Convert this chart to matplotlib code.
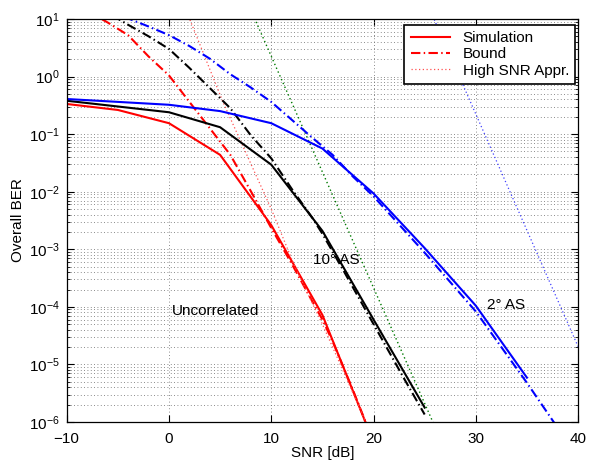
import numpy as np
import matplotlib.pyplot as plt
from matplotlib.ticker import LogLocator, NullFormatter

plt.rcParams['font.family'] = ['Liberation Sans', 'DejaVu Sans']
plt.rcParams['font.size'] = 11

# ---- data (BER given as log10 values) ----
# Uncorrelated
snr_sim_unc = [-10, -5, 0, 5, 10, 15, 20]
log_sim_unc = [-0.476, -0.58, -0.81, -1.36, -2.58, -4.14, -6.35]
snr_bnd_unc = [-8, -7, -6, -4, -2, 0, 2, 4, 6, 8, 10, 12, 14, 15, 16, 18, 20]
log_bnd_unc = [1.15, 1.04, 0.94, 0.72, 0.35, 0.02, -0.44, -0.9, -1.36, -1.99,
               -2.63, -3.25, -3.9, -4.22, -4.6, -5.45, -6.35]
snr_hi_unc = [1.0, 5.3, 10, 12.3, 15, 20]
log_hi_unc = [1.45, -0.45, -2.3, -3.3, -4.3, -6.3]

# 10 deg angular spread
snr_sim_10 = [-10, -5, 0, 5, 10, 15, 20, 25]
log_sim_10 = [-0.42, -0.52, -0.62, -0.88, -1.53, -2.68, -4.22, -5.75]
snr_bnd_10 = [-7, -6, -4, -2, 0, 2, 4, 6, 8, 10, 12, 14, 15, 17, 20, 23, 25]
log_bnd_10 = [1.22, 1.11, 0.9, 0.7, 0.48, 0.15, -0.2, -0.55, -1.02, -1.42,
              -1.95, -2.45, -2.73, -3.35, -4.3, -5.25, -5.87]
snr_hi_10 = [7, 26]
log_hi_10 = [1.56, -6.08]

# 2 deg angular spread
snr_sim_2 = [-10, -5, 0, 5, 10, 15, 20, 25, 30, 35]
log_sim_2 = [-0.39, -0.44, -0.49, -0.6, -0.81, -1.25, -2.03, -2.98, -3.98, -5.23]
snr_bnd_2 = [-6, -4, -2, 0, 2, 4, 6, 8, 10, 12, 14, 16, 18, 20, 25, 30, 35, 38]
log_bnd_2 = [1.15, 1.01, 0.87, 0.72, 0.53, 0.31, 0.04, -0.19, -0.44, -0.75,
             -1.06, -1.36, -1.74, -2.08, -3.06, -4.08, -5.32, -6.1]
snr_hi_2 = [24.5, 40]
log_hi_2 = [1.57, -4.69]

x_ticks = [-10, 0, 10, 20, 30, 40]

# ---- figure ----
fig = plt.figure(figsize=(5.97, 4.62), dpi=100)
ax = fig.add_axes([0.1117, 0.0866, 0.8566, 0.8723])

dashdot = (0, (4.5, 1.6, 0.7, 1.6))
lw = 1.5

def semi(x, logy, **kw):
    ax.semilogy(x, 10.0 ** np.array(logy), **kw)

semi(snr_sim_unc, log_sim_unc, color='red', lw=lw, label='Simulation')
semi(snr_bnd_unc, log_bnd_unc, color='red', lw=lw, ls=dashdot, label='Bound')
semi(snr_hi_unc, log_hi_unc, color='#ff5050', lw=0.9, ls=(0, (1, 2)),
     label='High SNR Appr.')

semi(snr_sim_10, log_sim_10, color='black', lw=lw)
semi(snr_bnd_10, log_bnd_10, color='black', lw=lw, ls=dashdot)
semi(snr_hi_10, log_hi_10, color='#007a00', lw=1.0, ls=(0, (1, 2)))

semi(snr_sim_2, log_sim_2, color='blue', lw=lw)
semi(snr_bnd_2, log_bnd_2, color='blue', lw=lw, ls=dashdot)
semi(snr_hi_2, log_hi_2, color='#4040ff', lw=0.9, ls=(0, (1, 2)))

ax.set_xlim(-10, 40)
ax.set_ylim(1e-6, 1e1)
ax.set_xticks(x_ticks)
ax.yaxis.set_major_locator(LogLocator(base=10, numticks=20))
ax.yaxis.set_minor_locator(LogLocator(base=10, subs=np.arange(2, 10), numticks=20))
ax.yaxis.set_minor_formatter(NullFormatter())

grid_ls = (0, (1, 3))
ax.grid(True, which='major', ls=grid_ls, color='0.4', lw=0.6)
ax.grid(True, which='minor', axis='y', ls=grid_ls, color='0.4', lw=0.6)
ax.tick_params(which='both', direction='in', top=True, right=True)
ax.tick_params(which='major', length=5, width=0.8)
ax.tick_params(which='minor', length=2.5, width=0.6)
ax.tick_params(axis='x', pad=7)
ax.tick_params(axis='y', pad=5)
for s in ax.spines.values():
    s.set_linewidth(0.9)

ax.set_xlabel('SNR [dB]', labelpad=0)
ax.set_ylabel('Overall BER', labelpad=3)

ax.text(0.3, 10 ** -4.08, 'Uncorrelated', ha='left', va='center')
ax.text(14.1, 10 ** -3.18, '10° AS', ha='left', va='center')
ax.text(31.1, 10 ** -3.97, '2° AS', ha='left', va='center')

leg = ax.legend(loc='upper right', bbox_to_anchor=(0.994, 0.985), fancybox=False,
                framealpha=1, edgecolor='black', borderaxespad=0,
                handlelength=2.6, handletextpad=0.8, labelspacing=0.15,
                borderpad=0.4)
leg.get_frame().set_linewidth(1.2)

fig.savefig('out.png', dpi=100)
